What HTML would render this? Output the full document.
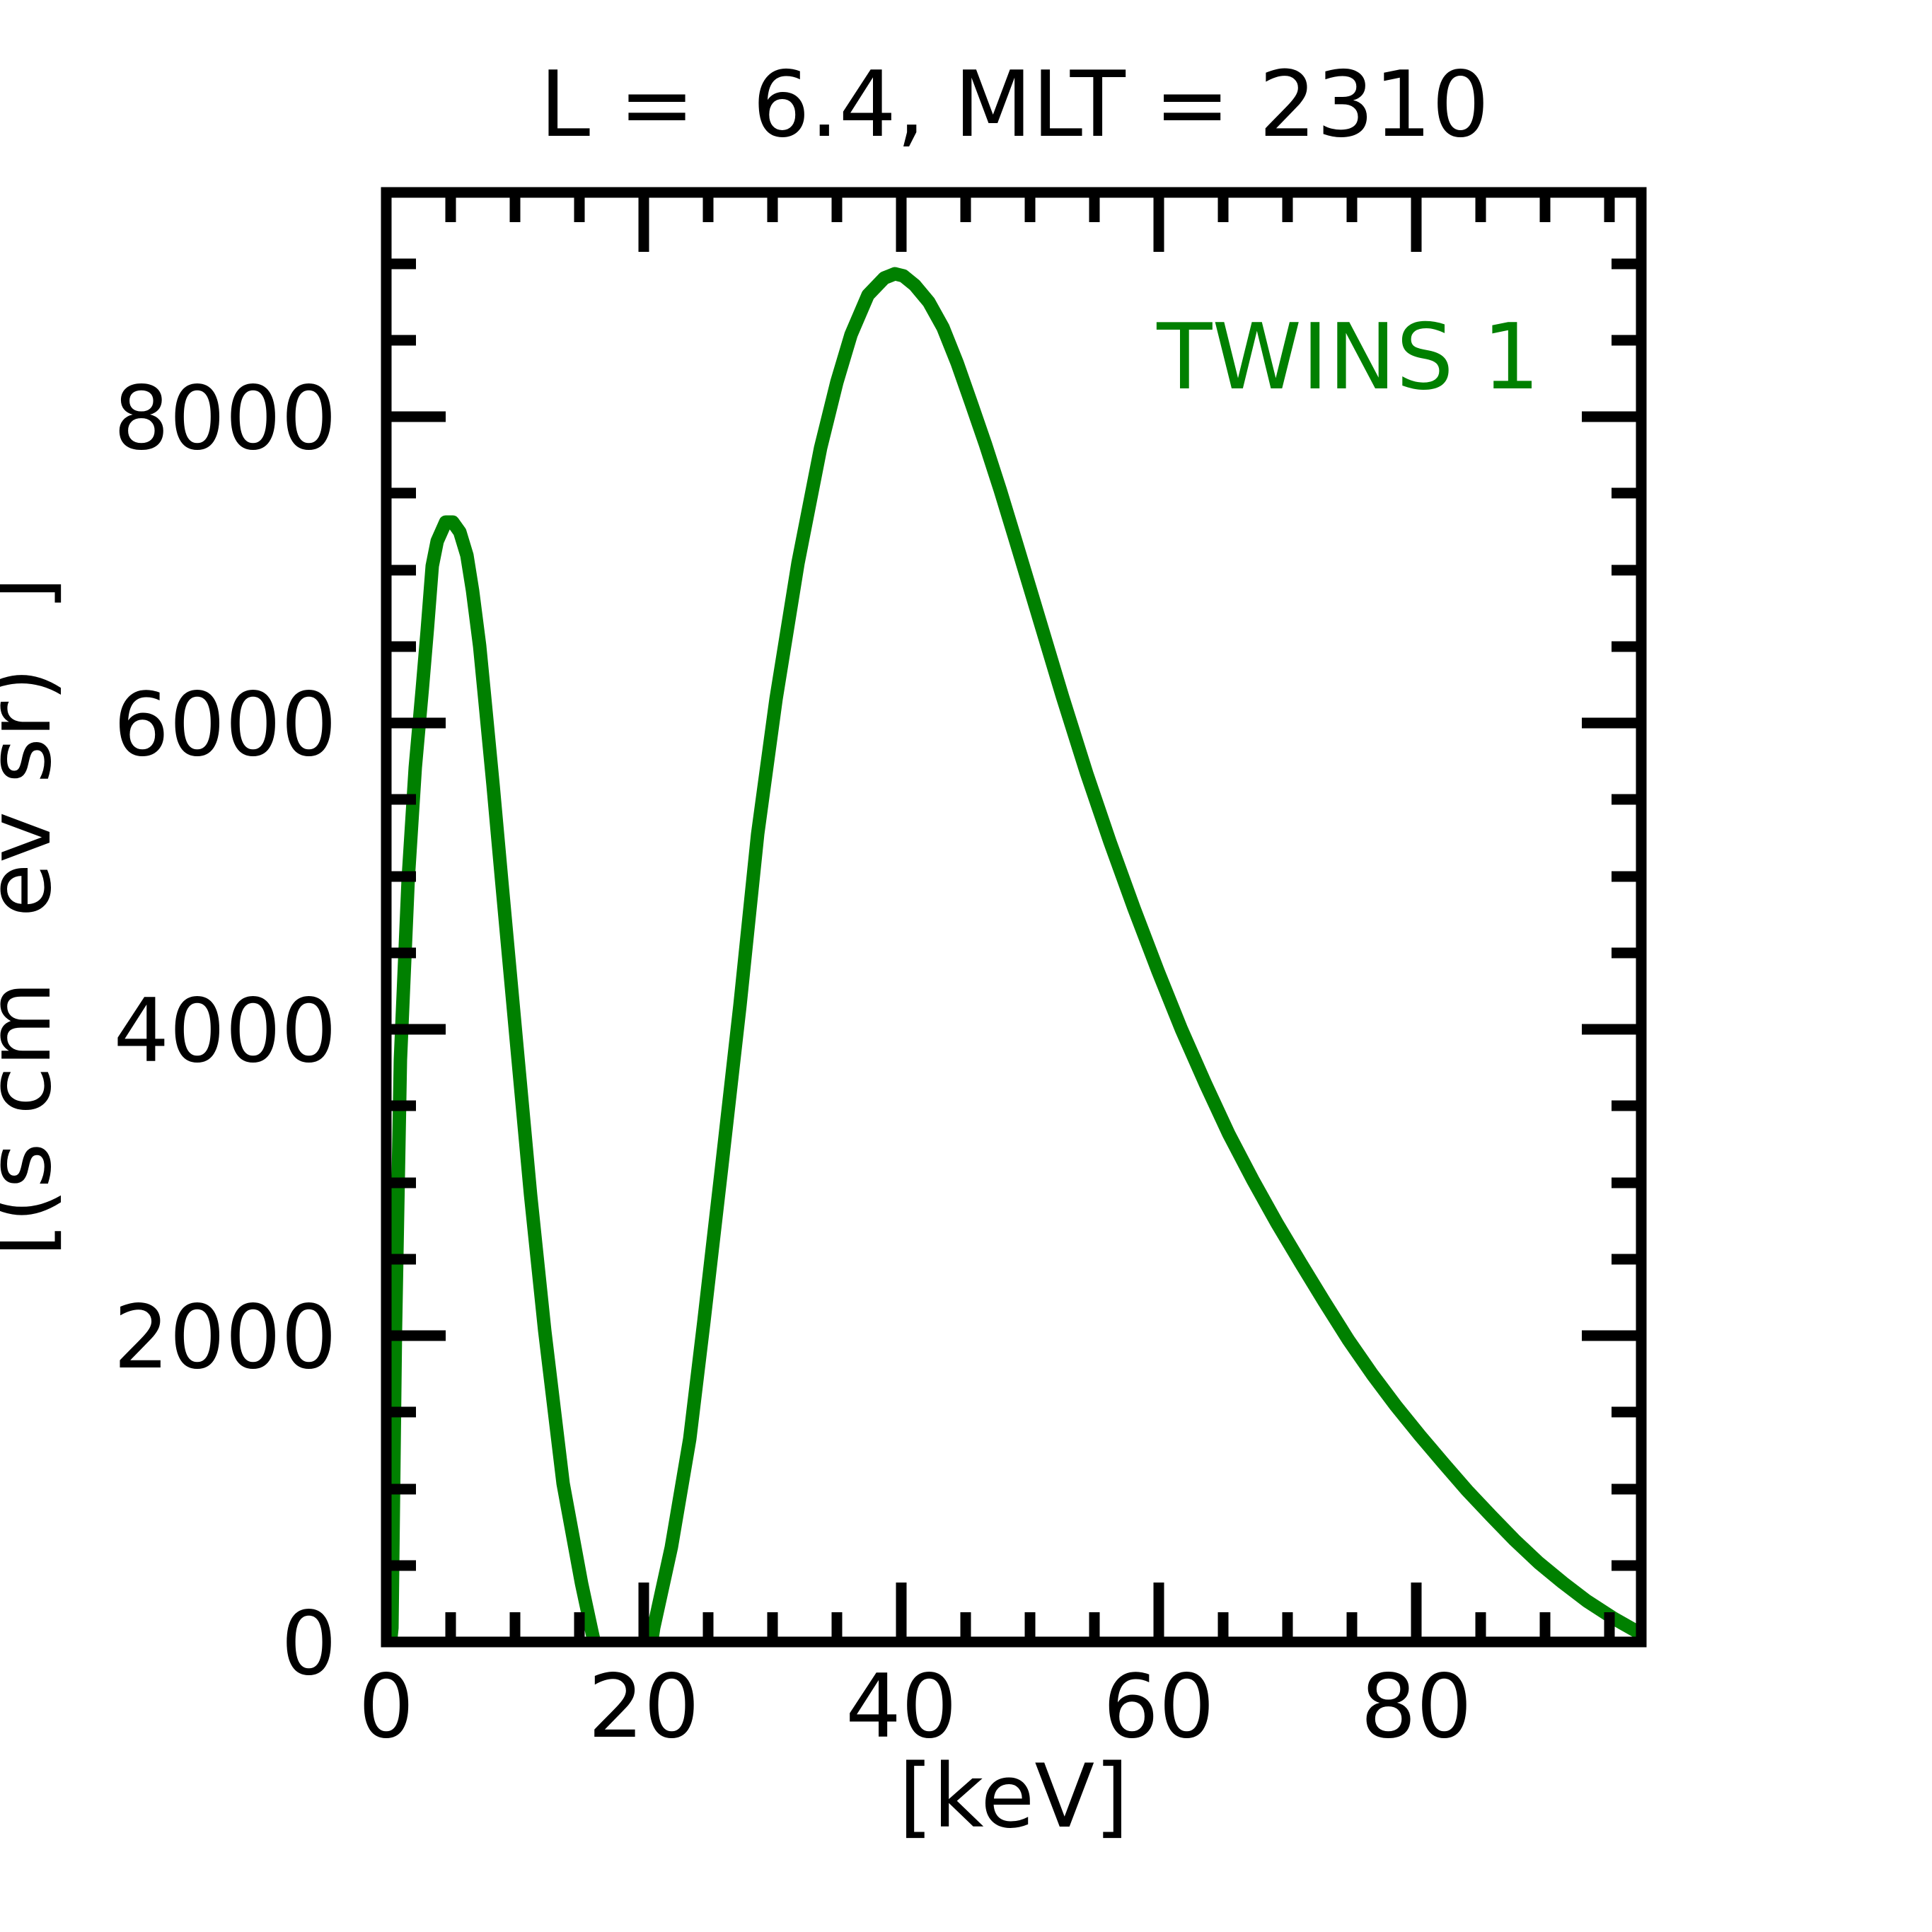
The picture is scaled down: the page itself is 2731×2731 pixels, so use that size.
<!DOCTYPE html>
<html><head><meta charset="utf-8"><style>html,body{margin:0;padding:0;background:#fff}svg{display:block}</style></head>
<body>
<svg width="2731" height="2731" viewBox="0 0 2731 2731" xmlns="http://www.w3.org/2000/svg" font-family="DejaVu Sans, Liberation Sans, sans-serif">
<rect width="2731" height="2731" fill="#fff"/>
<polyline fill="none" stroke="#008000" stroke-width="19" stroke-linejoin="round" points="552,2321 554,2301 559,1881 566,1498 577,1243 587,1085 597,973 604,890 611,800 618,765 630,738 640,738 650,752 660,785 668,835 678,913 685,985 697,1110 709,1243 730,1472 750,1689 770,1881 796,2097 822,2238 837,2308 840,2321"/>
<polyline fill="none" stroke="#008000" stroke-width="19" stroke-linejoin="round" points="921,2321 924,2301 949,2187 975,2034 995,1868 1020,1651 1046,1421 1071,1179 1097,988 1128,796 1160,633 1183,540 1203,473 1227,417 1250,393 1265,387 1277,390 1293,403 1313,427 1333,463 1353,513 1373,570 1393,628 1414,693 1435,762 1460,845 1502,985 1536,1093 1569,1190 1603,1284 1637,1373 1670,1455 1704,1532 1737,1603 1771,1668 1805,1729 1839,1786 1872,1840 1906,1894 1940,1943 1973,1987 2007,2029 2041,2069 2074,2107 2108,2143 2141,2177 2175,2209 2209,2237 2243,2263 2280,2287 2317,2308"/>
<g stroke="#000" stroke-width="15" fill="none">
<rect x="546" y="272" width="1774" height="2049"/>
</g>
<g stroke="#000" stroke-width="15">
<path d="M546,2321v-84M546,272v84M910,2321v-84M910,272v84M1274,2321v-84M1274,272v84M1638,2321v-84M1638,272v84M2002,2321v-84M2002,272v84"/>
<path d="M637,2321v-42M637,272v42M728,2321v-42M728,272v42M819,2321v-42M819,272v42M1001,2321v-42M1001,272v42M1092,2321v-42M1092,272v42M1183,2321v-42M1183,272v42M1365,2321v-42M1365,272v42M1456,2321v-42M1456,272v42M1547,2321v-42M1547,272v42M1729,2321v-42M1729,272v42M1820,2321v-42M1820,272v42M1911,2321v-42M1911,272v42M2093,2321v-42M2093,272v42M2184,2321v-42M2184,272v42M2275,2321v-42M2275,272v42"/>
<path d="M546,1888h84M2320,1888h-84M546,1455h84M2320,1455h-84M546,1022h84M2320,1022h-84M546,589h84M2320,589h-84"/>
<path d="M546,2213h42M2320,2213h-42M546,2105h42M2320,2105h-42M546,1996h42M2320,1996h-42M546,1780h42M2320,1780h-42M546,1672h42M2320,1672h-42M546,1563h42M2320,1563h-42M546,1347h42M2320,1347h-42M546,1239h42M2320,1239h-42M546,1130h42M2320,1130h-42M546,914h42M2320,914h-42M546,806h42M2320,806h-42M546,697h42M2320,697h-42M546,481h42M2320,481h-42M546,373h42M2320,373h-42"/>
</g>
<g font-size="124" fill="#000" text-anchor="end">
<text x="476" y="2366">0</text>
<text x="476" y="1933">2000</text>
<text x="476" y="1500">4000</text>
<text x="476" y="1067">6000</text>
<text x="476" y="634">8000</text>
</g>
<g font-size="124" fill="#000" text-anchor="middle">
<text x="546" y="2455">0</text>
<text x="910" y="2455">20</text>
<text x="1274" y="2455">40</text>
<text x="1638" y="2455">60</text>
<text x="2002" y="2455">80</text>
<text x="1433" y="2582">[keV]</text>
<text x="1434" y="192" font-size="128" xml:space="preserve">L =  6.4, MLT = 2310</text>
</g>
<text x="1906" y="549" font-size="128" fill="#008000" text-anchor="middle">TWINS 1</text>
<text transform="translate(70,1296) rotate(-90)" font-size="124" fill="#000" text-anchor="middle">[(s cm<tspan font-size="80" dy="-100">2</tspan><tspan dy="100"> ev sr)</tspan><tspan font-size="80" dy="-100">-1</tspan><tspan dy="100">]</tspan></text>
</svg>
</body></html>
